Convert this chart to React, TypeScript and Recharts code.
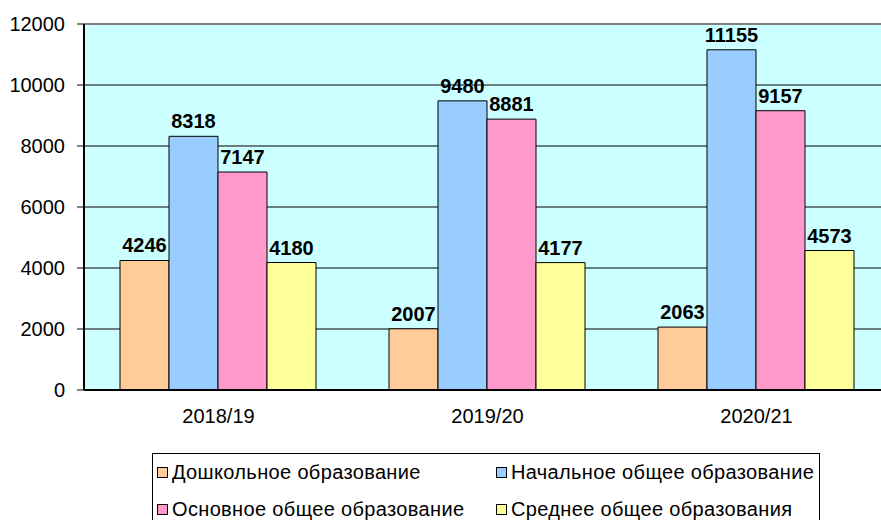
import React from 'react';
import { BarChart, Bar, XAxis, YAxis, CartesianGrid, Legend, LabelList, ReferenceLine } from 'recharts';

const years = ['2018/19', '2019/20', '2020/21'];
const preschool = [4246, 2007, 2063];
const primary = [8318, 9480, 11155];
const basic = [7147, 8881, 9157];
const secondary = [4180, 4177, 4573];
const yTicks = [0, 2000, 4000, 6000, 8000, 10000, 12000];
const boundaryTicks = [0, 1, 2, 3];

const SERIES = [
  { key: 'preschool', name: 'Дошкольное образование', color: '#FFCC99' },
  { key: 'primary', name: 'Начальное общее образование', color: '#99CCFF' },
  { key: 'basic', name: 'Основное общее образование', color: '#FF99CC' },
  { key: 'secondary', name: 'Среднее общее образования', color: '#FFFF99' },
];

const data = years.map((year, i) => ({
  year,
  preschool: preschool[i],
  primary: primary[i],
  basic: basic[i],
  secondary: secondary[i],
}));

const FONT = '"Liberation Sans", Arial, sans-serif';

const LegendBox: React.FC = () => (
  <div
    style={{
      border: '1px solid #000',
      width: 668,
      height: 80,
      boxSizing: 'border-box',
      display: 'grid',
      gridTemplateColumns: '339px 320px',
      gridAutoRows: '37px',
      fontFamily: FONT,
      fontSize: 20,
      letterSpacing: 0.35,
      color: '#000',
      background: '#fff',
    }}
  >
    {SERIES.map(s => (
      <div key={s.key} style={{ display: 'flex', alignItems: 'center', paddingLeft: 4 }}>
        <span
          style={{
            display: 'inline-block',
            width: 9,
            height: 9,
            border: '1px solid #000',
            background: s.color,
            marginRight: 4,
            flexShrink: 0,
          }}
        />
        <span style={{ whiteSpace: 'nowrap' }}>{s.name}</span>
      </div>
    ))}
  </div>
);

const App: React.FC = () => {
  return (
    <div style={{ position: 'fixed', left: 0, top: 0, width: 881, height: 520, overflow: 'hidden', background: '#fff' }}>
      <BarChart
        width={900}
        height={520}
        data={data}
        margin={{ top: 24, right: 9, left: 0, bottom: 90 }}
        barCategoryGap={36}
        barGap={0}
      >
        <CartesianGrid vertical={false} stroke="#000" fill="#CCFFFF" fillOpacity={1} />
        <XAxis
          xAxisId="edges"
          type="number"
          domain={[0, 3]}
          ticks={boundaryTicks}
          height={0}
          tick={false}
          tickSize={7}
          axisLine={false}
          tickLine={{ stroke: '#000' }}
        />
        <XAxis
          dataKey="year"
          height={40}
          tickLine={false}
          tickSize={0}
          tickMargin={19}
          axisLine={{ stroke: '#000', strokeWidth: 2 }}
          tick={{ fill: '#000', fontSize: 20, fontFamily: FONT }}
        />
        <YAxis
          width={84}
          domain={[0, 12000]}
          ticks={yTicks}
          interval={0}
          tickSize={7}
          tickMargin={12}
          axisLine={{ stroke: '#000', strokeWidth: 2 }}
          tickLine={{ stroke: '#000' }}
          tick={{ fill: '#000', fontSize: 20, fontFamily: FONT }}
        />
        <ReferenceLine y={12000} stroke="#808080" strokeWidth={2} />
        <Legend
          layout="horizontal"
          verticalAlign="middle"
          align="center"
          wrapperStyle={{ top: 453, left: 152, width: 'auto' }}
          content={() => <LegendBox />}
        />
        {SERIES.map(s => (
          <Bar
            key={s.key}
            dataKey={s.key}
            name={s.name}
            fill={s.color}
            stroke="#000"
            strokeWidth={1}
            isAnimationActive={false}
          >
            <LabelList
              dataKey={s.key}
              position="top"
              offset={8}
              fill="#000"
              fontSize={20}
              fontWeight="bold"
              fontFamily={FONT}
            />
          </Bar>
        ))}
      </BarChart>
    </div>
  );
};

export default App;
